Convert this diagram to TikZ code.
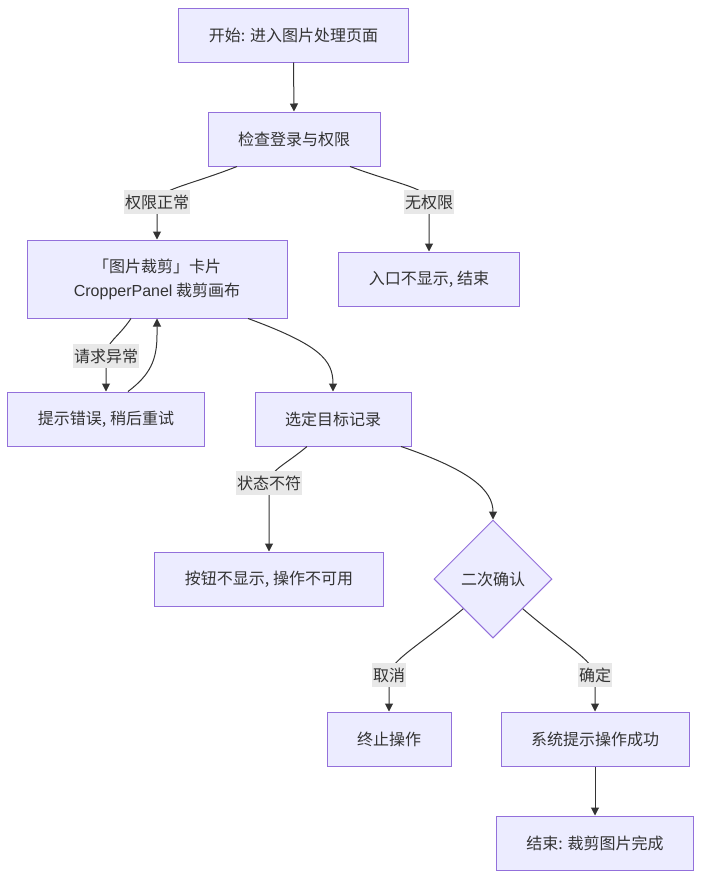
\documentclass[tikz,border=0pt]{standalone}
\usepackage{fontspec}
\setmainfont{Noto Sans CJK SC}
\newfontfamily\latinfont{Liberation Sans}
\usetikzlibrary{arrows.meta,shapes.geometric}
\definecolor{boxfill}{HTML}{ECECFF}
\definecolor{boxline}{HTML}{9370DB}
\definecolor{edgeline}{HTML}{333333}
\definecolor{lblfill}{HTML}{E8E8E8}

\begin{document}
\begin{tikzpicture}[x=1pt,y=-1pt,
    box/.style={draw=boxline,fill=boxfill,line width=1pt,inner xsep=30pt,minimum height=54pt,
        text=edgeline,font=\fontsize{16}{24}\selectfont,align=center},
    decide/.style={box,diamond,inner sep=0pt,minimum size=118pt},
    lbl/.style={fill=lblfill,inner xsep=1pt,inner ysep=0pt,minimum height=24pt,
        text=edgeline,font=\fontsize{16}{24}\selectfont},
    arr/.style={draw=edgeline,line width=1pt,-{Triangle[length=8pt,width=8pt]}}]
    \useasboundingbox (0,0) rectangle (702,878);

    \node[box] (start) at (293.5,35) {开始: 进入图片处理页面};
    \node[box] (check) at (294,139) {检查登录与权限};
    \node[box,minimum width=260pt,minimum height=78pt] (card) at (157,279) {「图片裁剪」卡片\\{\latinfont CropperPanel} 裁剪画布};
    \node[box] (noentry) at (429,279) {入口不显示, 结束};
    \node[box] (err) at (106,419) {提示错误, 稍后重试};
    \node[box] (pick) at (333,419) {选定目标记录};
    \node[box] (nobtn) at (269,579) {按钮不显示, 操作不可用};
    \node[decide] (confirm) at (493,579) {二次确认};
    \node[box] (stop) at (389,739) {终止操作};
    \node[box] (success) at (595,739) {系统提示操作成功};
    \node[box] (done) at (595,843) {结束: 裁剪图片完成};

    \foreach \a/\b in {start/check,success/done}{
        \draw[arr] (\a.south) -- (\b.north);
    };
    \draw[arr] ([xshift=-57pt]check.south) .. controls (190,185) and (157,190) .. (157,202) node[lbl] (lbla) {权限正常} -- (card.north);
    \draw[arr] ([xshift=56pt]check.south) .. controls (400,185) and (429,188) .. (429,202) node[lbl] (lblb) {无权限} -- (noentry.north);
    \draw[arr] ([xshift=-26pt]card.south) .. controls (118,338) and (106,342) .. (106,356) node[lbl] (lblc) {请求异常} -- (err.north);
    \draw[arr] ([xshift=22pt]err.north) .. controls (150,375) and (157,360) .. (157,335) -- (card.south);
    \draw[arr] ([xshift=91pt]card.south) .. controls (320,345) and (333,360) .. (pick.north);
    \draw[arr] ([xshift=-26pt]pick.south) .. controls (285,465) and (270,470) .. (269,483) node[lbl] (lbld) {状态不符} -- (nobtn.north);
    \draw[arr] ([xshift=68pt]pick.south) .. controls (470,470) and (493,490) .. (confirm.north);
    % 二次确认 branches
    \draw[arr] (confirm.south west) .. controls (420,645) and (391,660) .. (389,675) node[lbl] (lble) {取消} -- (stop.north);
    \draw[arr] (confirm.south east) .. controls (565,645) and (593,660) .. (595,675) node[lbl] (lblf) {确定} -- (success.north);

\end{tikzpicture}
\end{document}
